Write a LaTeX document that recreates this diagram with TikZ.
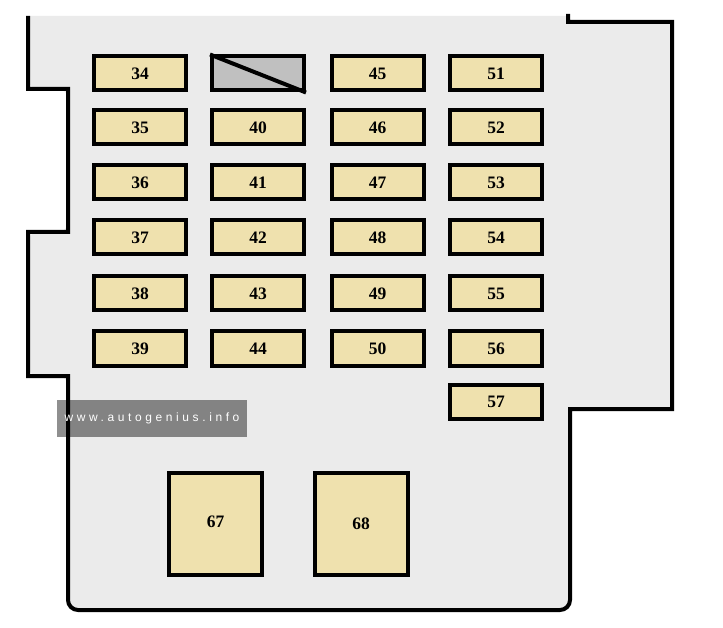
\documentclass[tikz,border=0pt]{standalone}
\usepackage{fontspec}
\setmainfont{Liberation Serif}
\newfontfamily\wmfont[LetterSpace=30]{Liberation Sans}
\definecolor{bg}{HTML}{EBEBEB}
\definecolor{fusefill}{HTML}{EFE1AE}
\definecolor{greyfuse}{HTML}{C0C0C0}
\begin{document}
\begin{tikzpicture}[x=1pt,y=-1pt,
  fusebox/.style={draw=black,line width=4pt,fill=fusefill,minimum width=92pt,minimum height=34pt,inner sep=0pt,font=\fontsize{17.5}{17.5}\selectfont\bfseries},
  relaybox/.style={fusebox,minimum width=93pt,minimum height=102pt},
  outline/.style={draw=black,line width=4pt,line join=miter}]
\useasboundingbox (0,0) rectangle (723,628);
% housing
\fill[bg,rounded corners=10pt] (28,16) -- (28,89) -- (68,89) -- (68,232) -- (28,232) -- (28,376) -- (68,376) -- (68,610) -- (570,610) [sharp corners]-- (570,409) -- (672,409) -- (672,22) -- (568,22) -- (568,16) -- cycle;
\draw[outline] (28,16) -- (28,89) -- (68,89) -- (68,232) -- (28,232) -- (28,376) -- (68,376) [rounded corners=10pt] -- (68,610) -- (570,610) [sharp corners] -- (570,409) -- (672,409) -- (672,22) -- (568,22) -- (568,14);
% fuses
\foreach \lab/\cx/\cy in {34/140/73.5,35/140/127.5,36/140/182.5,37/140/237.5,38/140/293.5,39/140/348.5,
  40/258/127.5,41/258/182.5,42/258/237.5,43/258/293.5,44/258/348.5,
  45/377.5/73.5,46/377.5/127.5,47/377.5/182.5,48/377.5/237.5,49/377.5/293.5,50/377.5/348.5,
  51/496/73.5,52/496/127.5,53/496/182.5,54/496/237.5,55/496/293.5,56/496/348.5,57/496/402}
  \node[fusebox] (f\lab) at (\cx,\cy) {\lab};
\node[fusebox,fill=greyfuse] (fx) at (258,73.5) {};
\draw[line width=4pt] (fx.north west) -- (fx.south east);
% relays
\node[relaybox] (r67) at (215.5,524) {\raisebox{4pt}{67}};
\node[relaybox] (r68) at (361,524) {68};
% watermark
\node[fill=black,fill opacity=0.44,text opacity=1,minimum width=190pt,minimum height=37pt,inner sep=0pt,text=white,font=\wmfont\fontsize{12}{12}\selectfont] (wm) at (152,418.5) {www.autogenius.info};
\end{tikzpicture}
\end{document}
